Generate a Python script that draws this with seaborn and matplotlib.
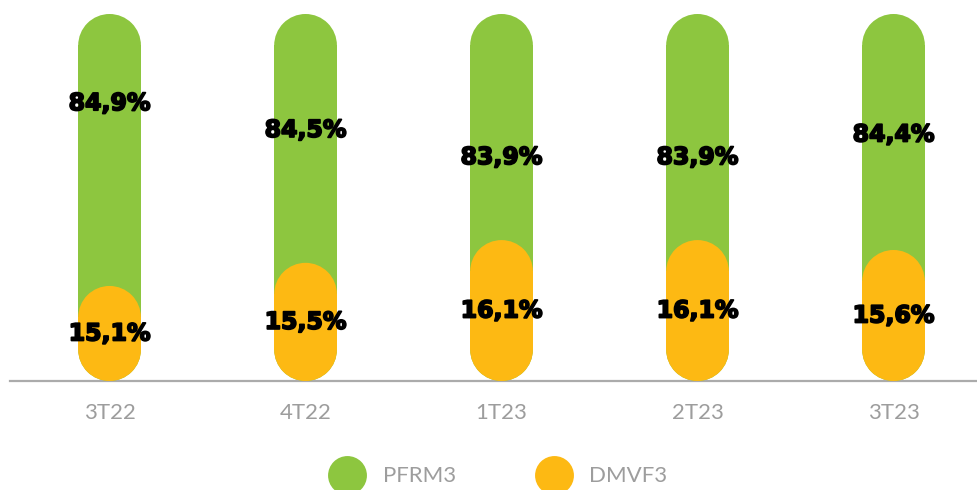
import numpy as np
import pandas as pd
import matplotlib
matplotlib.use("Agg")
import matplotlib.pyplot as plt
import matplotlib.transforms as mtransforms
import matplotlib.patheffects as pe
from matplotlib.patches import Rectangle, Circle
from matplotlib.lines import Line2D
import seaborn as sns

# data
periods = ["3T22", "4T22", "1T23", "2T23", "3T23"]
pfrm3 = [84.9, 84.5, 83.9, 83.9, 84.4]
dmvf3 = [15.1, 15.5, 16.1, 16.1, 15.6]
series_names = ["PFRM3", "DMVF3"]

GREEN = "#8DC63F"
ORANGE = "#FDB913"
GREY = "#9D9D9D"

df = pd.DataFrame({"period": periods, "PFRM3": pfrm3, "DMVF3": dmvf3})
df["total"] = df["PFRM3"] + df["DMVF3"]

sns.set_theme(style="white")
plt.rcParams["font.family"] = ["Lato", "DejaVu Sans"]

fig = plt.figure(figsize=(9.77, 4.9), dpi=100)
ax = fig.add_axes([10 / 977, 109 / 490, 1 - 10 / 977, 367 / 490])

# exaggerated (non-linear) value axis, like the original infographic
_yv = [0, 15.1, 15.5, 15.6, 16.1, 16.2, 83.5, 83.9, 84.5, 84.9, 85.2, 100]
_yf = [0, 0.259, 0.322, 0.357, 0.384, 0.39, 0.561, 0.610, 0.684, 0.757, 0.81, 1.0]
ax.set_yscale("function", functions=(lambda v: np.interp(v, _yv, _yf),
                                     lambda f: np.interp(f, _yf, _yv)))

sns.barplot(data=df, x="period", y="total", color=GREEN, width=0.32,
            saturation=1, ax=ax)
sns.barplot(data=df, x="period", y="DMVF3", color=ORANGE, width=0.32,
            saturation=1, ax=ax)

ax.set_xlim(-0.508, 4.426)
ax.set_ylim(0, 100)
ax.set_xlabel("")
ax.set_ylabel("")
ax.set_yticks([])
for s in ["top", "right", "left"]:
    ax.spines[s].set_visible(False)
ax.spines["bottom"].set_color("#ABABAB")
ax.spines["bottom"].set_linewidth(1.6)
ax.spines["bottom"].set_zorder(0)
ax.tick_params(axis="x", length=0, pad=16, labelsize=16, labelcolor=GREY)

# turn the bars into pills (rounded in pixel space)
fig.canvas.draw()
ident = mtransforms.IdentityTransform()
bars = list(ax.patches)
for i, b in enumerate(bars):
    bb = b.get_window_extent()
    r = bb.width / 2
    z = 2 + (i >= len(periods))
    fc = b.get_facecolor()
    parts = [
        Rectangle((bb.x0, bb.y0 + r), bb.width, bb.height - 2 * r),
        Circle((bb.x0 + r, bb.y0 + r), r),
        Circle((bb.x0 + r, bb.y1 - r), r),
    ]
    for p in parts:
        p.set_transform(ident)
        p.set_facecolor(fc)
        p.set_edgecolor("none")
        p.set_clip_on(False)
        p.set_zorder(z)
        ax.add_artist(p)
    b.set_visible(False)

# value labels
to_pix = ax.transData
from_pix = ax.transData.inverted()
heavy = [pe.withStroke(linewidth=1.3, foreground="black")]
lab_kw = dict(ha="center", va="center", fontsize=17, fontweight="bold",
              family="DejaVu Sans", color="black", zorder=5,
              path_effects=heavy)
for i in range(len(periods)):
    ax.text(i, pfrm3[i], f"{pfrm3[i]:.1f}%".replace(".", ","), **lab_kw)
    y0 = to_pix.transform((i, 0))[1]
    y1 = to_pix.transform((i, dmvf3[i]))[1]
    ymid = from_pix.transform((0, (y0 + y1) / 2))[1]
    ax.text(i, ymid, f"{dmvf3[i]:.1f}%".replace(".", ","), **lab_kw)

handles = [Line2D([], [], marker="o", ls="", markersize=28, color=c,
                  markeredgewidth=0) for c in (GREEN, ORANGE)]
fig.legend(handles, series_names, loc="center", ncol=2,
           bbox_to_anchor=(0.508, 0.028), frameon=False,
           fontsize=16, labelcolor=GREY, columnspacing=3.4,
           handletextpad=0.6, borderaxespad=0)

fig.savefig("out.png", dpi=100)
